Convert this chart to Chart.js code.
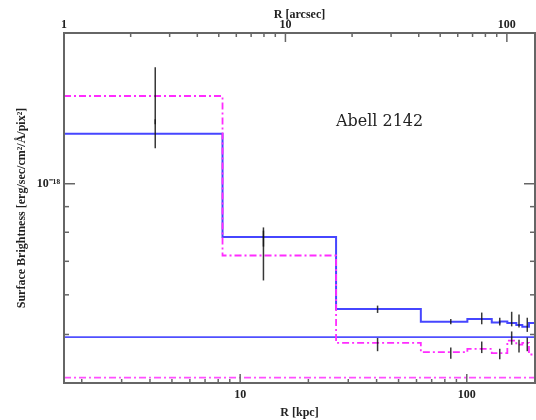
<!DOCTYPE html>
<html>
<head>
<meta charset="utf-8">
<script src="https://cdn.jsdelivr.net/npm/chart.js@4.4.1/dist/chart.umd.min.js"></script>
<style>
  body { margin: 0; background: #fff; }
  #wrap { width: 536px; height: 420px; }
</style>
</head>
<body>
<div id="wrap"><canvas id="profileChart" width="536" height="420"></canvas></div>
<script>
// radial bins (kpc), shared by both model profiles
const binEdges = [1.67, 8.36, 26.5, 62.7, 100.6, 128.9, 139.8, 151, 165.4, 175.8, 188.1, 200];
// model surface brightness per bin (erg/sec/cm^2/A/pix^2)
const blueModel = [1.259e-18, 0.783e-18, 0.562e-18, 0.530e-18, 0.537e-18, 0.528e-18, 0.531e-18, 0.527e-18, 0.522e-18, 0.518e-18, 0.527e-18];
const magentaModel = [1.497e-18, 0.719e-18, 0.481e-18, 0.461e-18, 0.468e-18, 0.459e-18, 0.459e-18, 0.486e-18, 0.477e-18, 0.481e-18, 0.456e-18];
// flat background levels
const blueBackground = 0.494e-18;
const magentaBackground = 0.410e-18;

// measured points with 1-sigma ranges
const obsRadius = [4.22, 12.67, 40.4, 85.0, 116.4, 139.8, 157.8, 170, 184.9];
const blueLow = [1.177e-18, 0.749e-18, 0.552e-18, 0.524e-18, 0.524e-18, 0.521e-18, 0.519e-18, 0.516e-18, 0.506e-18];
const blueHigh = [1.345e-18, 0.818e-18, 0.571e-18, 0.537e-18, 0.553e-18, 0.540e-18, 0.555e-18, 0.548e-18, 0.540e-18];
const magentaLow = [1.314e-18, 0.641e-18, 0.463e-18, 0.447e-18, 0.459e-18, 0.446e-18, 0.477e-18, 0.460e-18, 0.463e-18];
const magentaHigh = [1.708e-18, 0.806e-18, 0.492e-18, 0.471e-18, 0.484e-18, 0.468e-18, 0.507e-18, 0.488e-18, 0.493e-18];

// axis ticks
const kpcTicks = [10, 100];
const kpcMinor = [2, 3, 4, 5, 6, 7, 8, 9, 20, 30, 40, 50, 60, 70, 80, 90, 200];
const arcsecTicks = [1, 10, 100];
const arcsecMinor = [2, 3, 4, 5, 6, 7, 8, 9, 20, 30, 40, 50, 60, 70, 80, 90];
const sbTicks = [1e-18];
const sbMinor = [5e-19, 6e-19, 7e-19, 8e-19, 9e-19];

const FONT = 'Liberation Serif';
const INK = '#222';

function stepData(edges, levels) {
  const pts = levels.map((v, i) => ({ x: edges[i], y: v }));
  pts.push({ x: edges[edges.length - 1], y: levels[levels.length - 1] });
  return pts;
}

function flatLine(level) {
  return [{ x: binEdges[0], y: level }, { x: binEdges[binEdges.length - 1], y: level }];
}

// frame, inward ticks, error bars and the cluster name
const framePlugin = {
  id: 'frame',
  afterDatasetsDraw(chart) {
    const { ctx, chartArea: a, scales } = chart;
    const x = scales.x, x2 = scales.x2, y = scales.y;
    ctx.save();

    // error bars
    ctx.strokeStyle = 'rgba(20,20,20,0.85)';
    ctx.lineWidth = 1.5;
    obsRadius.forEach((r, i) => {
      const px = x.getPixelForValue(r);
      [[blueLow[i], blueHigh[i]], [magentaLow[i], magentaHigh[i]]].forEach(([lo, hi]) => {
        ctx.beginPath();
        ctx.moveTo(px, y.getPixelForValue(lo));
        ctx.lineTo(px, y.getPixelForValue(hi));
        ctx.stroke();
      });
    });

    ctx.strokeStyle = '#666';
    ctx.lineWidth = 1.5;
    const tick = (x0, y0, x1, y1) => {
      ctx.beginPath();
      ctx.moveTo(x0, y0);
      ctx.lineTo(x1, y1);
      ctx.stroke();
    };
    kpcTicks.forEach(v => { const p = x.getPixelForValue(v); tick(p, a.bottom, p, a.bottom - 9); });
    kpcMinor.forEach(v => { const p = x.getPixelForValue(v); tick(p, a.bottom, p, a.bottom - 4); });
    arcsecTicks.forEach(v => { const p = x2.getPixelForValue(v); tick(p, a.top, p, a.top + 9); });
    arcsecMinor.forEach(v => { const p = x2.getPixelForValue(v); tick(p, a.top, p, a.top + 4); });
    sbTicks.forEach(v => {
      const p = y.getPixelForValue(v);
      tick(a.left, p, a.left + 11, p);
      tick(a.right, p, a.right - 11, p);
    });
    sbMinor.forEach(v => {
      const p = y.getPixelForValue(v);
      tick(a.left, p, a.left + 5, p);
      tick(a.right, p, a.right - 5, p);
    });

    ctx.lineWidth = 2;
    ctx.strokeRect(a.left, a.top, a.right - a.left, a.bottom - a.top);

    ctx.fillStyle = INK;
    ctx.font = '16px "DejaVu Serif"';
    ctx.textAlign = 'center';
    ctx.textBaseline = 'middle';
    ctx.fillText('Abell 2142', a.left + 0.67 * (a.right - a.left), a.top + 89);
    ctx.restore();
  }
};

const tickFont = { family: FONT, size: 12, weight: 'bold' };
const titleFont = { family: FONT, size: 12, weight: 'bold' };

const ctx = document.getElementById('profileChart').getContext('2d');
new Chart(ctx, {
  type: 'line',
  data: {
    datasets: [
      {
        label: 'model 1',
        data: stepData(binEdges, magentaModel),
        stepped: 'before',
        borderColor: '#ff2cff',
        borderWidth: 1.8,
        borderDash: [7, 3, 2, 3],
        pointRadius: 0
      },
      {
        label: 'model 2',
        data: stepData(binEdges, blueModel),
        stepped: 'before',
        borderColor: '#4646ff',
        borderWidth: 2,
        pointRadius: 0
      },
      {
        label: 'background 1',
        data: flatLine(magentaBackground),
        borderColor: '#ff50ff',
        borderWidth: 1.8,
        borderDash: [7, 3, 2, 3],
        pointRadius: 0
      },
      {
        label: 'background 2',
        data: flatLine(blueBackground),
        borderColor: '#5050ff',
        borderWidth: 1.6,
        pointRadius: 0
      }
    ]
  },
  options: {
    responsive: false,
    animation: false,
    devicePixelRatio: 1,
    layout: { padding: { right: 1 } },
    plugins: {
      legend: { display: false },
      tooltip: { enabled: false }
    },
    scales: {
      x: {
        type: 'logarithmic',
        position: 'bottom',
        min: 1.67,
        max: 200,
        grid: { display: false, drawTicks: false },
        border: { display: false },
        afterBuildTicks: s => { s.ticks = kpcTicks.map(v => ({ value: v })); },
        afterFit: s => { s.height = 37; },
        ticks: { autoSkip: false, maxRotation: 0, padding: 5, color: INK, font: tickFont, callback: v => String(v) },
        title: { display: true, text: 'R [kpc]', color: INK, font: titleFont, padding: { top: 4, bottom: 0 } }
      },
      x2: {
        type: 'logarithmic',
        position: 'top',
        min: 1,
        max: 134,
        grid: { display: false, drawTicks: false },
        border: { display: false },
        afterBuildTicks: s => { s.ticks = arcsecTicks.map(v => ({ value: v })); },
        afterFit: s => { s.height = 33; },
        ticks: { autoSkip: false, maxRotation: 0, padding: 1, color: INK, font: tickFont, callback: v => String(v) },
        title: { display: true, text: 'R [arcsec]', color: INK, font: titleFont, padding: { top: 8, bottom: 0 } }
      },
      y: {
        type: 'logarithmic',
        position: 'left',
        min: 4e-19,
        max: 2e-18,
        grid: { display: false, drawTicks: false },
        border: { display: false },
        afterBuildTicks: s => { s.ticks = sbTicks.map(v => ({ value: v })); },
        afterFit: s => { s.width = 64; },
        ticks: { autoSkip: false, padding: 4, color: INK, font: tickFont, callback: () => '10⁻¹⁸' },
        title: { display: true, text: 'Surface Brightness [erg/sec/cm²/Å/pix²]', color: INK, font: titleFont, padding: { top: 15, bottom: 0 } }
      }
    }
  },
  plugins: [framePlugin]
});
</script>
</body>
</html>
